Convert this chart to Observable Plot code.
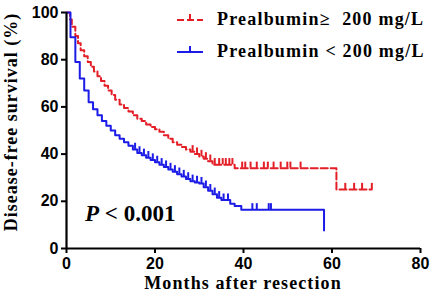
<!DOCTYPE html>
<html><head><meta charset="utf-8">
<script src="https://cdn.jsdelivr.net/npm/d3@7"></script>
<script src="https://cdn.jsdelivr.net/npm/@observablehq/plot@0.6"></script>
<style>body{margin:0;background:#fff}</style>
</head><body><div id="chart"></div>
<script>
// Prealbumin >= 200 mg/L (red, dashed)
const highTime = [0,0.8,1.2,2,2.6,3.2,4,4.8,5.5,6.2,7,7.8,8.6,9.4,10.2,11,12,13,14,15,16,17,18,19,20,21,22,23,24,25,26,27,28,29,30,31,32,33,38,61,69];
const highSurv = [100,97,94,90,87,84,81.5,79,77,75,73,71,69,67,65,63,61,59.5,58,56.5,55,54,52.5,51.5,50.5,49.5,48,46.5,45,44,43,42,41,40,39,38,37,35.5,34,25,25];
const highCensor = [28.5,29.5,30.5,31.5,32.5,33.5,34.5,35.3,36,36.8,37.5,39.7,40.4,41.6,43,44.6,45.5,46.8,48.4,49.9,50.6,52.9,63,65,66.8,69];
// Prealbumin < 200 mg/L (blue, solid)
const lowTime = [0,0.9,2,3,4,5,6,7,8,9,10,11,12,13,14,15,16,17,18,19,20,21,22,23,24,25,26,27,28,29,30,31,32,33,34,35,37,38,39.5,58.2];
const lowSurv = [100,89.5,79,72,67,62,59,56.5,54,52,50,48,46.5,45,43.5,42,40.5,39.5,38.5,37.5,36.5,35.5,34.5,33.5,32.5,31.5,30.5,29.5,28.5,28,27.5,26,24.5,23,21.5,20.5,19,18,16.4,7.6];
const lowCensor = [15.5,16.5,17.5,18.5,19.5,20.5,21.5,22.5,23.5,24.5,25.5,26.5,27.5,28.5,29.5,30.5,31.5,32.5,33.5,34.5,35.5,36.5,42,43,45.7,46.2];
const xTicks = [0,20,40,60,80];
const yTicks = [0,20,40,60,80,100];
const legendLabels = ["Prealbumin\u2265  200 mg/L", "Prealbumin < 200 mg/L"];
const pLabel = "< 0.001";

const red = "#e31e26", blue = "#1c1ce6";
const toRows = (t, s) => t.map((d, i) => ({t: d, s: s[i]}));
const survAt = (t, s, x) => { let v = s[0]; for (let i = 0; i < t.length; i++) if (t[i] <= x) v = s[i]; return v; };
const censorRows = (c, t, s) => c.map(x => ({t: x, s: survAt(t, s, x)}));

const W = 433, H = 304;
const plot = Plot.plot({
  width: W, height: H,
  marginLeft: 66, marginRight: 13, marginTop: 12, marginBottom: 56,
  x: {domain: [0, 80], ticks: xTicks},
  y: {domain: [0, 100], ticks: yTicks},
  style: {fontFamily: "'Liberation Sans', Arial, sans-serif", fontWeight: "bold", fontSize: "16px", color: "#000", background: "#fff"},
  marks: [
    Plot.axisX({ticks: xTicks, tickSize: 5, tickPadding: 4, strokeWidth: 2, label: null, fontSize: 16, fontWeight: "bold"}),
    Plot.axisY({ticks: yTicks, tickSize: 5, tickPadding: 3, strokeWidth: 2, label: null, fontSize: 16, fontWeight: "bold"}),
    Plot.line(toRows(highTime, highSurv), {x: "t", y: "s", curve: "step-after", stroke: red, strokeWidth: 2, strokeDasharray: "7,3"}),
    Plot.ruleX(censorRows(highCensor, highTime, highSurv), {x: "t", y1: "s", y2: d => d.s + 2.6, stroke: red, strokeWidth: 2}),
    Plot.line(toRows(lowTime, lowSurv), {x: "t", y: "s", curve: "step-after", stroke: blue, strokeWidth: 2}),
    Plot.ruleX(censorRows(lowCensor, lowTime, lowSurv), {x: "t", y1: "s", y2: d => d.s + 2.6, stroke: blue, strokeWidth: 2}),
    Plot.ruleY([0], {strokeWidth: 2.2}),
    Plot.ruleX([0], {strokeWidth: 2.2})
  ]
});
document.getElementById("chart").appendChild(plot);

const svg = d3.select(plot);
const serif = "'Liberation Serif', 'Times New Roman', serif";
// axis titles
svg.append("text").attr("x", 243).attr("y", 289).attr("text-anchor", "middle")
  .attr("font-family", serif).attr("font-weight", "bold").attr("font-size", 18).attr("letter-spacing", 1.1)
  .text("Months after resection");
svg.append("text").attr("transform", "translate(17,122) rotate(-90)").attr("text-anchor", "middle")
  .attr("font-family", serif).attr("font-weight", "bold").attr("font-size", 18).attr("letter-spacing", 1)
  .text("Disease-free survival (%)");
// legend
const lg = svg.append("g");
[[red, "7,3", 20], [blue, null, 52]].forEach(([c, dash, y], i) => {
  lg.append("line").attr("x1", 177).attr("x2", 203).attr("y1", y).attr("y2", y)
    .attr("stroke", c).attr("stroke-width", 2).attr("stroke-dasharray", dash);
  lg.append("line").attr("x1", 190).attr("x2", 190).attr("y1", y).attr("y2", y - 6)
    .attr("stroke", c).attr("stroke-width", 2);
  lg.append("text").attr("x", 217).attr("y", y + 5).attr("text-anchor", "start").attr("font-family", serif).attr("font-weight", "bold")
    .attr("font-size", 18).attr("letter-spacing", 1.2).text(legendLabels[i]);
});
// P value
const pt = svg.append("text").attr("x", 85).attr("y", 221).attr("text-anchor", "start").attr("font-family", serif).attr("font-weight", "bold").attr("font-size", 23);
pt.append("tspan").attr("font-style", "italic").text("P");
pt.append("tspan").text(" " + pLabel);
</script></body></html>
